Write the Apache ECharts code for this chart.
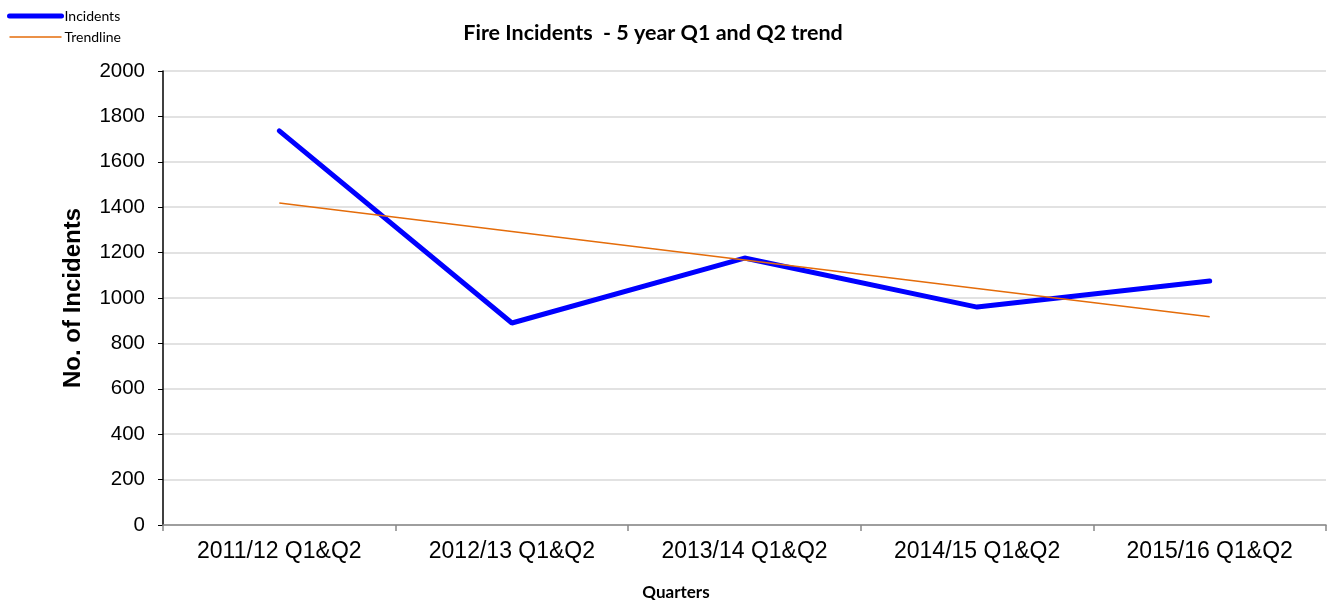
<!DOCTYPE html>
<html>
<head>
<meta charset="utf-8">
<title>Fire Incidents</title>
<script src="https://cdn.jsdelivr.net/npm/echarts@6/dist/echarts.min.js"></script>
<style>
  html, body { margin: 0; padding: 0; background: #fff; }
  #chart { width: 1331px; height: 600px; }
</style>
</head>
<body>
<div id="chart"></div>
<script>
  // values
  var quarters = ['2011/12 Q1&Q2', '2012/13 Q1&Q2', '2013/14 Q1&Q2', '2014/15 Q1&Q2', '2015/16 Q1&Q2'];
  var incidents = [1736, 890, 1176, 960, 1075];
  var trendline = [1418, 1293, 1167, 1042, 917];

  var chart = echarts.init(document.getElementById('chart'));
  chart.setOption({
    animation: false,
    title: [
      {
        text: 'Fire Incidents  - 5 year Q1 and Q2 trend',
        left: 648, top: 17, textAlign: 'center',
        textStyle: { fontFamily: 'Lato', fontWeight: 'bold', fontSize: 21.5, color: '#000' }
      },
      {
        text: 'Quarters',
        left: 671, top: 579, textAlign: 'center',
        textStyle: { fontFamily: 'Lato', fontWeight: 'bold', fontSize: 17, color: '#000' }
      }
    ],
    legend: {
      orient: 'vertical',
      left: 2, top: 4,
      itemWidth: 52, itemHeight: 12, itemGap: 7,
      itemStyle: { opacity: 0 },
      textStyle: { fontFamily: 'Lato', fontSize: 14, color: '#000', padding: [0, 0, 0, -2] },
      data: [
        { name: 'Incidents', lineStyle: { width: 5, cap: 'round' } },
        { name: 'Trendline', lineStyle: { width: 1.5 } }
      ]
    },
    grid: { left: 163, right: 5, top: 71, bottom: 75 },
    xAxis: {
      type: 'category',
      data: quarters,
      boundaryGap: true,
      axisLine: { lineStyle: { color: '#888', width: 1.5 } },
      axisTick: { show: true, length: 6, lineStyle: { color: '#888', width: 1.5 } },
      axisLabel: { fontFamily: 'Liberation Sans', fontSize: 23, color: '#000', margin: 15 }
    },
    yAxis: {
      type: 'value',
      min: 0, max: 2000, interval: 200,
      name: 'No. of Incidents',
      nameLocation: 'middle',
      nameGap: 78,
      nameTextStyle: { fontFamily: 'Liberation Sans', fontWeight: 'bold', fontSize: 24, color: '#000' },
      axisLine: { show: true, lineStyle: { color: '#000', width: 1.5 } },
      axisTick: { show: true, length: 5, lineStyle: { color: '#000' } },
      axisLabel: {
        fontFamily: 'Liberation Sans', fontSize: 20.5, color: '#000', margin: 18,
        formatter: function (v) { return String(v); }
      },
      splitLine: { lineStyle: { color: '#d9d9d9', width: 1.5 } }
    },
    series: [
      {
        name: 'Incidents',
        type: 'line',
        data: incidents,
        symbol: 'none',
        color: '#0000ff',
        lineStyle: { color: '#0000ff', width: 5, cap: 'round' }
      },
      {
        name: 'Trendline',
        type: 'line',
        data: trendline,
        symbol: 'none',
        color: '#e46c0a',
        lineStyle: { color: '#e46c0a', width: 1.5 }
      }
    ]
  });
</script>
</body>
</html>
